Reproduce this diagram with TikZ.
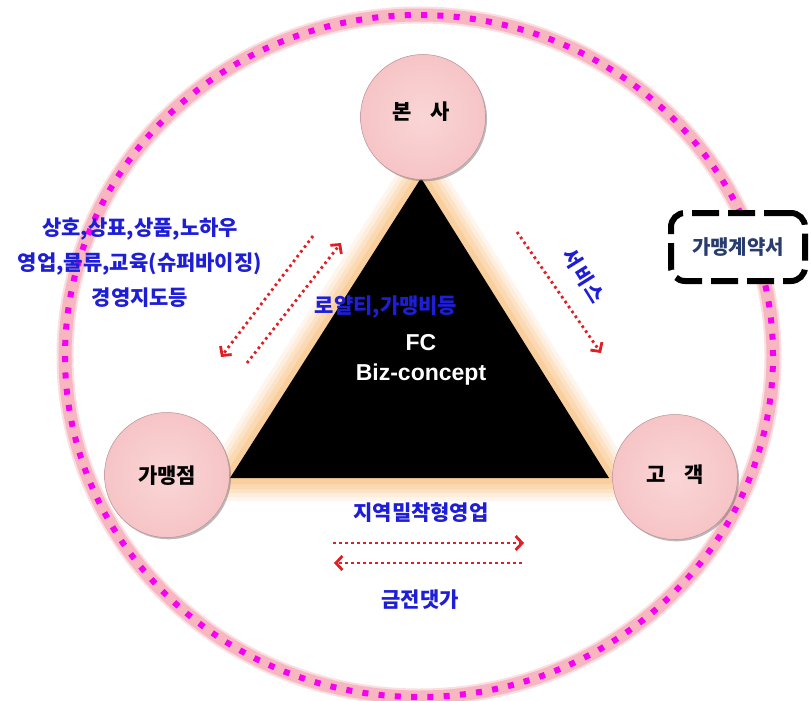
\documentclass[tikz,border=0pt]{standalone}
\usepackage{fontspec}
\setmainfont{Liberation Sans}
\newfontfamily\kr{Noto Sans CJK KR}
\usetikzlibrary{arrows.meta,shadows}
\definecolor{txtblue}{RGB}{30,30,215}
\definecolor{arrred}{RGB}{225,30,35}
\definecolor{hubin}{RGB}{250,214,214}
\definecolor{hubout}{RGB}{246,196,198}
\definecolor{hubrim}{RGB}{185,145,148}
\definecolor{glowc}{RGB}{250,198,138}
\definecolor{haloc}{RGB}{248,182,192}
\definecolor{magc}{RGB}{245,0,240}
\definecolor{boxtxt}{RGB}{40,60,110}
\begin{document}
\begin{tikzpicture}[x=1pt,y=-1pt,
  krb/.style={font=\kr\bfseries\fontsize{21}{35}\selectfont},
  bluetxt/.style={krb, text=txtblue, inner sep=0pt},
  redarrow/.style={draw=arrred, line width=2.8pt, dash pattern=on 2.6pt off 3.4pt,
     -{Straight Barb[length=6.5pt,width=14pt,line width=2.8pt]}},
  hub/.style={circle, minimum size=125pt, inner sep=0pt, shading=radial,
     inner color=hubin, outer color=hubout, draw=hubrim, line width=0.5pt,
     drop shadow={shadow xshift=1.5pt, shadow yshift=-1.8pt, opacity=0.45, fill=black!60}},
  hubtxt/.style={krb, text=black},
  glow/.style={draw=glowc, line join=round},
  halo/.style={draw=haloc, line width=13pt},
  magdots/.style={draw=magc, line width=6pt, dash pattern=on 6pt off 10.3pt},
  contract/.style={draw=black, line width=6pt, dash pattern=on 27pt off 9pt, rounded corners=14pt,
     fill=white, minimum width=134pt, minimum height=68pt, text=boxtxt,
     font=\kr\bfseries\fontsize{20}{24}\selectfont}
]
\useasboundingbox (0,0) rectangle (811,701);
\fill[white] (0,0) rectangle (811,701);

% outer ring
\draw[halo, draw opacity=0.45, line width=17pt] (419,356) ellipse [x radius=354pt, y radius=341pt];
\draw[halo] (419,356) ellipse [x radius=354pt, y radius=341pt];
\draw[magdots] (419,356) ellipse [x radius=354pt, y radius=341pt];

% triangle with glow
\coordinate (A) at (421,178);
\coordinate (B) at (230,478);
\coordinate (C) at (609,478);
\foreach \w/\o in {46/0.14, 38/0.18, 30/0.24, 22/0.32, 12/0.5}
  \draw[glow, line width=\w pt, draw opacity=\o] (A) -- (B) -- (C) -- cycle;
\fill[black] (A) -- (B) -- (C) -- cycle;

% hubs
\node[hub] (hq) at (423,117) {};
\node[hubtxt] (hqt) at (421,112) {본\hspace{0.9em}사};
\node[hub] (fr) at (167,475) {};
\node[hubtxt] (frt) at (167,476) {가맹점};
\node[hub] (cu) at (675,477) {};
\node[hubtxt] (cut) at (675,475) {고\hspace{0.9em}객};

% centre texts
\node[text=white, align=center, font=\bfseries\fontsize{23}{30}\selectfont] (fc) at (421,360) {FC\\Biz-concept};
\node[bluetxt] (roy) at (386,307) {로얄티,가맹비등};

% left texts
\node[bluetxt, align=center] (lt) at (140,263) {상호,상표,상품,노하우\\영업,물류,교육(슈퍼바이징)\\경영지도등};

% service
\node[text=txtblue, inner sep=0pt, rotate=-58, font=\kr\bfseries\fontsize{20}{24}\selectfont] (svc) at (584,276) {서\hspace{0.12em}비\hspace{0.12em}스};

% bottom texts
\node[bluetxt] (loc) at (421,513) {지역밀착형영업};
\node[bluetxt] (pay) at (420,600) {금전댓가};

% contract box
\node[contract] (box) at (738,247) {가맹계약서};

% arrows
\coordinate (s1) at (517,232);
\coordinate (s2) at (601,353);
\draw[redarrow] (s1) -- (s2);
\coordinate (a1) at (313,236);
\coordinate (a2) at (221,357);
\draw[redarrow] (a1) -- (a2);
\coordinate (b1) at (247,363);
\coordinate (b2) at (341,243);
\draw[redarrow] (b1) -- (b2);
\coordinate (c1) at (333,543);
\coordinate (c2) at (524,543);
\draw[redarrow] (c1) -- (c2);
\coordinate (d1) at (522,563);
\coordinate (d2) at (334,563);
\draw[redarrow] (d1) -- (d2);
\end{tikzpicture}
\end{document}
